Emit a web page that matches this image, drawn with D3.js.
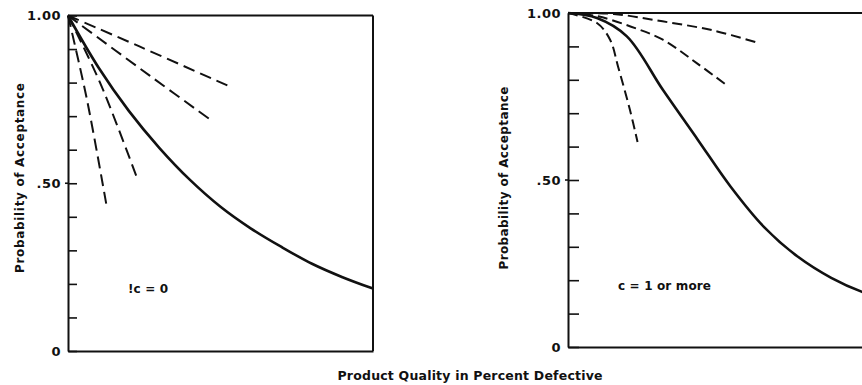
<!DOCTYPE html>
<html>
<head>
<meta charset="utf-8">
<script src="https://cdn.jsdelivr.net/npm/d3@7"></script>
<style>
  html, body { margin: 0; padding: 0; background: #fff; }
  svg { display: block; }
  text { font-family: "DejaVu Sans", sans-serif; fill: #111; font-weight: bold; }
</style>
</head>
<body>
<svg id="chart" width="862" height="385"></svg>
<script>
// Product quality axis (percent defective, unlabelled scale 0..10) and acceptance probability.
const yTicks = [0, 0.1, 0.2, 0.3, 0.4, 0.5, 0.6, 0.7, 0.8, 0.9, 1.0];
const yTickLabels = { 0: "0", 0.5: ".50", 1: "1.00" };

// c = 0 plans: solid reference curve and dashed steeper/shallower plans
const leftSolid = [
  [0, 1.0], [1, 0.845], [2, 0.715], [3, 0.605], [4, 0.51], [5, 0.43],
  [6, 0.365], [7, 0.31], [8, 0.26], [9, 0.22], [10, 0.186]
];
const leftDashed = [
  [[0, 1.0], [2.36, 0.907], [5.31, 0.788]],
  [[0, 1.0], [2.69, 0.82], [4.75, 0.684]],
  [[0, 1.0], [1.05, 0.80], [2.25, 0.519]],
  [[0, 1.0], [0.62, 0.75], [1.27, 0.43]]
];

// c = 1 or more plans
const rightSolid = [
  [0, 1.0], [0.95, 0.985], [1.93, 0.93], [3.11, 0.77], [4.26, 0.62],
  [5.34, 0.479], [6.43, 0.359], [7.54, 0.27], [8.63, 0.207], [9.64, 0.165], [10, 0.155]
];
const rightDashed = [
  [[0, 1.0], [1.5, 0.997], [3.1, 0.975], [4.75, 0.948], [6.25, 0.91]],
  [[0, 1.0], [0.98, 0.99], [2.07, 0.959], [3.11, 0.92], [4.22, 0.85], [5.2, 0.784]],
  [[0, 1.0], [0.95, 0.97], [1.38, 0.92], [1.64, 0.84], [2.03, 0.71], [2.28, 0.614]]
];

const panelLabels = ["!c = 0", "c = 1 or more"];
const yTitle = "Probability of Acceptance";
const xTitle = "Product Quality in Percent Defective";

const svg = d3.select("#chart");

function drawPanel(cfg) {
  const x = d3.scaleLinear().domain([0, 10]).range([cfg.x0, cfg.x0 + 305]);
  const y = d3.scaleLinear().domain([0, 1]).range([cfg.yBottom, cfg.yTop]);
  const g = svg.append("g");

  // top border and right border
  g.append("line")
    .attr("x1", x(0)).attr("x2", x(10)).attr("y1", y(1)).attr("y2", y(1))
    .attr("stroke", "#111").attr("stroke-width", 2);
  g.append("line")
    .attr("x1", x(10)).attr("x2", x(10)).attr("y1", y(1)).attr("y2", y(0))
    .attr("stroke", "#111").attr("stroke-width", 2);

  // bottom axis line
  const xAxis = d3.axisBottom(x).tickValues([]).tickSizeOuter(0);
  g.append("g").attr("transform", `translate(0,${y(0)})`).call(xAxis)
    .call(s => s.select(".domain").attr("stroke", "#111").attr("stroke-width", 2));

  // left axis with inward ticks
  const yAxis = d3.axisLeft(y)
    .tickValues(yTicks)
    .tickSizeInner(-cfg.tick)
    .tickSizeOuter(0)
    .tickPadding(7)
    .tickFormat(d => yTickLabels[d] || "");
  const ya = g.append("g").attr("transform", `translate(${x(0)},0)`).call(yAxis);
  ya.select(".domain").attr("stroke", "#111").attr("stroke-width", 2);
  ya.selectAll(".tick line").attr("stroke", "#111").attr("stroke-width", 1.6);
  ya.selectAll(".tick text")
    .attr("font-size", 13).attr("font-weight", "bold")
    .attr("font-family", "DejaVu Sans, sans-serif").attr("fill", "#111")
    .style("letter-spacing", "0.5px");
  // short outside tick at .50
  g.append("line")
    .attr("x1", x(0) - 3).attr("x2", x(0)).attr("y1", y(0.5)).attr("y2", y(0.5))
    .attr("stroke", "#111").attr("stroke-width", 1.6);

  const line = d3.line().x(d => x(d[0])).y(d => y(d[1])).curve(d3.curveCatmullRom.alpha(0.5));

  g.selectAll("path.dash").data(cfg.dashed).join("path")
    .attr("class", "dash")
    .attr("d", line)
    .attr("fill", "none").attr("stroke", "#111").attr("stroke-width", 2)
    .attr("stroke-dasharray", cfg.dash);

  g.append("path").datum(cfg.solid)
    .attr("d", line)
    .attr("fill", "none").attr("stroke", "#111").attr("stroke-width", 2.6);

  // y-axis title
  g.append("text")
    .attr("transform", `translate(${cfg.titleX},${cfg.titleY}) rotate(-90)`)
    .attr("text-anchor", "middle")
    .attr("font-size", 12)
    .attr("textLength", cfg.titleLen).attr("lengthAdjust", "spacing")
    .text(yTitle);

  // panel annotation
  g.append("text")
    .attr("x", cfg.labelX).attr("y", cfg.labelY)
    .attr("font-size", 12)
    .attr("textLength", cfg.labelLen).attr("lengthAdjust", "spacing")
    .text(cfg.label);
}

drawPanel({
  x0: 68, yTop: 15.5, yBottom: 351, tick: 9,
  solid: leftSolid, dashed: leftDashed, dash: "12,6",
  titleX: 24, titleY: 178, titleLen: 190,
  label: panelLabels[0], labelX: 128, labelY: 293, labelLen: 40
});

drawPanel({
  x0: 568, yTop: 13, yBottom: 347, tick: 11,
  solid: rightSolid, dashed: rightDashed, dash: "10,5",
  titleX: 508, titleY: 178, titleLen: 183,
  label: panelLabels[1], labelX: 618, labelY: 290, labelLen: 93
});

// shared x-axis title
svg.append("text")
  .attr("x", 470).attr("y", 380)
  .attr("text-anchor", "middle")
  .attr("font-size", 12.5)
  .attr("textLength", 265).attr("lengthAdjust", "spacing")
  .text(xTitle);
</script>
</body>
</html>
